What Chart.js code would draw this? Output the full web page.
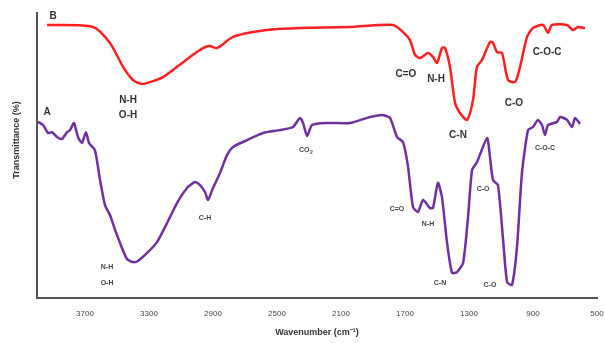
<!DOCTYPE html>
<html>
<head>
<meta charset="utf-8">
<script src="https://cdn.jsdelivr.net/npm/chart.js@4/dist/chart.umd.min.js"></script>
<style>
  body { margin: 0; background: #fff; }
  #wrap { width: 605px; height: 343px; }
</style>
</head>
<body>
<div id="wrap"><canvas id="ftirChart" width="605" height="343"></canvas></div>
<script>
// wavenumber ticks (cm-1), axis runs high -> low
const xTicks = [3700, 3300, 2900, 2500, 2100, 1700, 1300, 900, 500];

// spectrum B (red)
const bWavenumber = [3937, 3650, 3544, 3462, 3400, 3344, 3275, 3212, 3125, 3044, 2962, 2919, 2875, 2775, 2650, 2500, 2356, 2044, 1775, 1712, 1669, 1637, 1606, 1556, 1525, 1500, 1469, 1450, 1419, 1387, 1356, 1312, 1275, 1250, 1219, 1169, 1150, 1125, 1094, 1056, 1012, 981, 937, 900, 837, 806, 781, 687, 650, 619, 575];
const bTransmittance = [95.8, 95.1, 89.5, 81.1, 76.5, 75.1, 76.1, 77.5, 81.1, 84.6, 87.7, 88.4, 87.7, 91.6, 93.3, 94.4, 94.7, 95.1, 95.8, 93.3, 90.5, 85.3, 84.2, 86.0, 84.6, 82.5, 87.7, 87.7, 81.1, 68.4, 64.9, 62.5, 69.5, 81.1, 83.5, 89.8, 89.5, 86.3, 86.0, 76.5, 75.8, 81.1, 91.6, 94.7, 95.8, 93.0, 95.8, 95.8, 94.0, 95.1, 94.7];

// spectrum A (purple)
const aWavenumber = [3994, 3962, 3931, 3906, 3875, 3844, 3812, 3794, 3769, 3744, 3719, 3694, 3675, 3638, 3606, 3575, 3544, 3512, 3481, 3438, 3400, 3369, 3312, 3250, 3187, 3125, 3062, 3012, 2981, 2950, 2931, 2900, 2856, 2812, 2775, 2687, 2587, 2481, 2400, 2356, 2337, 2312, 2281, 2187, 2044, 1937, 1844, 1794, 1750, 1712, 1681, 1650, 1619, 1587, 1544, 1525, 1494, 1469, 1437, 1406, 1375, 1337, 1306, 1281, 1250, 1187, 1169, 1150, 1119, 1087, 1062, 1031, 1000, 969, 931, 900, 869, 844, 825, 806, 750, 731, 687, 656, 637, 606];
const aTransmittance = [61.8, 60.7, 57.9, 58.2, 56.5, 55.8, 58.2, 58.9, 61.4, 56.5, 54.4, 58.2, 54.4, 51.9, 41.4, 32.6, 29.1, 23.9, 19.3, 13.7, 12.6, 13.0, 15.8, 19.6, 26.3, 33.3, 38.6, 40.7, 39.6, 37.2, 34.4, 38.6, 43.9, 50.2, 53.0, 55.4, 57.9, 58.9, 60.0, 63.2, 61.4, 56.8, 60.7, 61.4, 61.4, 63.2, 64.2, 63.2, 56.5, 54.7, 46.0, 31.9, 30.2, 34.4, 31.6, 31.6, 40.4, 35.4, 19.3, 8.8, 9.1, 12.3, 28.4, 44.9, 47.7, 56.1, 49.5, 41.4, 39.6, 20.4, 5.6, 4.6, 17.9, 43.9, 58.9, 60.0, 62.5, 60.7, 57.2, 60.7, 61.8, 63.5, 62.5, 60.0, 63.2, 61.1];

// band assignments: [text, wavenumber, transmittance]
const bLabels = [
    ['B', 3900, 98.9],
    ['A', 3937, 65.3],
    ['N-H', 3431, 69.5],
    ['O-H', 3431, 64.2],
    ['C=O', 1694, 78.6],
    ['N-H', 1506, 76.8],
    ['C-N', 1369, 57.2],
    ['C-O', 1019, 68.4],
    ['C-O-C', 812, 86.3]
];
const aLabels = [
    ['N-H', 3562, 10.9],
    ['O-H', 3562, 5.3],
    ['C-H', 2950, 28.1],
    ['C=O', 1750, 31.2],
    ['N-H', 1556, 26.0],
    ['C-N', 1481, 5.3],
    ['C-O', 1212, 38.2],
    ['C-O', 1169, 4.6],
    ['C-O-C', 825, 52.6]
];
const co2Label = ['CO', '2', 2306, 51.9];
const yTitle = 'Transmittance (%)';

const FONT = "'Liberation Sans', Arial, sans-serif";

function toPoints(xs, ys) {
    return xs.map((x, i) => ({ x: x, y: ys[i] }));
}

const bandLabels = {
    id: 'bandLabels',
    afterDatasetsDraw(chart) {
        const { ctx, scales: { x, y } } = chart;
        ctx.save();
        ctx.textAlign = 'center';
        ctx.textBaseline = 'middle';
        ctx.fillStyle = '#333';
        ctx.font = 'bold 10px ' + FONT;
        bLabels.forEach(([t, wn, v]) => {
            ctx.fillText(t, x.getPixelForValue(wn), y.getPixelForValue(v));
        });

        ctx.font = 'bold 7px ' + FONT;
        ctx.fillStyle = '#444';
        aLabels.forEach(([t, wn, v]) => {
            ctx.fillText(t, x.getPixelForValue(wn), y.getPixelForValue(v));
        });

        // CO2 with a real subscript
        const cx = x.getPixelForValue(co2Label[2]);
        const cy = y.getPixelForValue(co2Label[3]);
        ctx.textAlign = 'right';
        ctx.fillText(co2Label[0], cx + 1.5, cy);
        ctx.font = 'bold 5px ' + FONT;
        ctx.textAlign = 'left';
        ctx.fillText(co2Label[1], cx + 2, cy + 2.5);

        // y axis title, sits a little above the axis middle
        ctx.font = 'bold 9px ' + FONT;
        ctx.fillStyle = '#333';
        ctx.textAlign = 'center';
        ctx.translate(17, 140);
        ctx.rotate(-Math.PI / 2);
        ctx.fillText(yTitle, 0, 0);
        ctx.restore();
    }
};

new Chart(document.getElementById('ftirChart'), {
    type: 'line',
    data: {
        datasets: [
            {
                label: 'B',
                data: toPoints(bWavenumber, bTransmittance),
                borderColor: '#ff1f1f',
                borderWidth: 2.5,
                pointRadius: 0,
                tension: 0.25,
                fill: false
            },
            {
                label: 'A',
                data: toPoints(aWavenumber, aTransmittance),
                borderColor: '#7030a0',
                borderWidth: 2.5,
                pointRadius: 0,
                tension: 0.2,
                fill: false
            }
        ]
    },
    options: {
        responsive: false,
        animation: false,
        layout: { autoPadding: false, padding: { top: 13, right: 8, left: 0, bottom: 0 } },
        plugins: {
            legend: { display: false },
            tooltip: { enabled: false }
        },
        scales: {
            x: {
                type: 'linear',
                reverse: true,
                min: 500,
                max: 4000,
                afterBuildTicks: s => { s.ticks = xTicks.map(v => ({ value: v })); },
                afterFit: s => {
                    s.height = 45;
                    s.paddingLeft = 0;
                    s.paddingRight = 0;
                },
                grid: { display: false, drawTicks: false },
                border: { display: true, color: '#555', width: 2 },
                ticks: {
                    padding: 11,
                    color: '#444',
                    font: { family: FONT, size: 8 },
                    maxRotation: 0,
                    autoSkip: false,
                    callback: v => String(v)
                },
                title: {
                    display: true,
                    text: 'Wavenumber (cm\u207B\u00B9)',
                    color: '#333',
                    font: { family: FONT, size: 9, weight: 'bold' },
                    padding: { top: 0, bottom: 5 }
                }
            },
            y: {
                min: 0,
                max: 100,
                afterFit: s => { s.width = 37; },
                grid: { display: false, drawTicks: false },
                border: { display: true, color: '#555', width: 2 },
                ticks: { display: false },
                title: { display: false }
            }
        }
    },
    plugins: [bandLabels]
});
</script>
</body>
</html>
